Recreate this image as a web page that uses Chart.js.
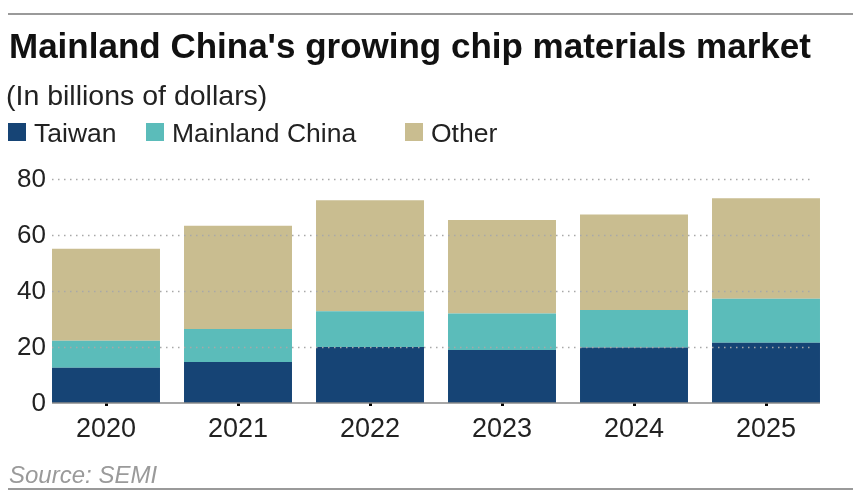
<!DOCTYPE html>
<html>
<head>
<meta charset="utf-8">
<script src="https://cdn.jsdelivr.net/npm/chart.js@4.4.1/dist/chart.umd.min.js"></script>
<style>
  body { margin: 0; background: #fff; }
  #wrap { position: relative; width: 864px; height: 502px; overflow: hidden; font-family: "Liberation Sans", Arial, sans-serif; }
  #chart { position: absolute; left: 0; top: 0; }
  .rule { position: absolute; left: 8px; width: 845px; height: 0; border-top: 2px solid #9a9a9a; }
  .txt { position: absolute; white-space: nowrap; line-height: 1; }
  #title { left: 9px; top: 28px; font-size: 35px; font-weight: bold; color: #111; }
  #subtitle { left: 6px; top: 81px; font-size: 28.5px; color: #222; }
  #legend { position: absolute; left: 0; top: 120px; height: 26px; }
  .item { position: absolute; top: 0; font-size: 26.5px; line-height: 1; color: #222; white-space: nowrap; }
  .sw { position: absolute; top: 3px; width: 18px; height: 18px; }
  #source { left: 9px; top: 463px; font-size: 24px; font-style: italic; color: #9a9a9a; }
</style>
</head>
<body>
<div id="wrap">
  <canvas id="chart" width="864" height="502"></canvas>
  <div class="rule" style="top:13px"></div>
  <div class="txt" id="title">Mainland China's growing chip materials market</div>
  <div class="txt" id="subtitle">(In billions of dollars)</div>
  <div id="legend"></div>
  <div class="txt" id="source">Source: SEMI</div>
  <div class="rule" style="top:488px"></div>
</div>
<script>
// datos (miles de millones de dólares)
const years = ["2020", "2021", "2022", "2023", "2024", "2025"];
const taiwan = [12.6, 14.6, 20.0, 18.9, 19.8, 21.5];
const mainlandChina = [9.6, 11.8, 12.8, 13.1, 13.4, 15.7];
const other = [32.9, 36.9, 39.6, 33.4, 34.1, 35.9];
const yTicks = [0, 20, 40, 60, 80];

const seriesNames = ["Taiwan", "Mainland China", "Other"];
const seriesColors = ["#164475", "#5bbcba", "#c9bd90"];

// leyenda en html
const legend = document.getElementById("legend");
const legendX = [8, 146, 405];
seriesNames.forEach((name, i) => {
  const item = document.createElement("div");
  item.className = "item";
  item.style.left = legendX[i] + "px";
  item.innerHTML = `<span class="sw" style="left:0;background:${seriesColors[i]}"></span><span style="margin-left:26px">${name}</span>`;
  legend.appendChild(item);
});

// cuadrícula punteada, eje x y etiquetas del eje y
const gridPlugin = {
  id: "dottedGrid",
  afterDatasetsDraw(chart) {
    const ctx = chart.ctx;
    const y = chart.scales.y;
    const bars = chart.getDatasetMeta(0).data;
    const first = bars[0];
    const last = bars[bars.length - 1];
    const left = first.x - first.width / 2;
    const right = last.x + last.width / 2;
    ctx.save();
    ctx.strokeStyle = "#a8a8a8";
    ctx.lineWidth = 1.5;
    ctx.setLineDash([1.5, 4.5]);
    yTicks.slice(1).forEach((v) => {
      const py = Math.round(y.getPixelForValue(v)) + 0.5;
      ctx.beginPath();
      ctx.moveTo(left, py);
      ctx.lineTo(right - 6, py);
      ctx.stroke();
    });
    ctx.setLineDash([]);
    ctx.strokeStyle = "#8a8a8a";
    ctx.lineWidth = 1.5;
    const py0 = y.getPixelForValue(0);
    ctx.beginPath();
    ctx.moveTo(left, py0);
    ctx.lineTo(right, py0);
    ctx.stroke();

    // etiquetas del eje y
    ctx.fillStyle = "#222";
    ctx.font = "26px 'Liberation Sans'";
    ctx.textAlign = "right";
    ctx.textBaseline = "middle";
    yTicks.forEach((v) => {
      ctx.fillText(String(v), left - 6, y.getPixelForValue(v) + 1);
    });
    ctx.restore();
  }
};

const config = {
  type: "bar",
  data: {
    labels: years,
    datasets: [
      { label: seriesNames[0], data: taiwan, backgroundColor: seriesColors[0] },
      { label: seriesNames[1], data: mainlandChina, backgroundColor: seriesColors[1] },
      { label: seriesNames[2], data: other, backgroundColor: seriesColors[2] }
    ]
  },
  options: {
    responsive: false,
    animation: false,
    layout: { padding: { left: 0, right: 32, top: 179, bottom: 54 } },
    datasets: { bar: { barPercentage: 0.818, categoryPercentage: 1 } },
    plugins: { legend: { display: false }, tooltip: { enabled: false } },
    scales: {
      x: {
        stacked: true,
        grid: { display: true, drawOnChartArea: false, drawTicks: true, tickLength: 3, tickWidth: 3, tickColor: "#000", offset: false },
        border: { display: false },
        ticks: { padding: 7, color: "#222", font: { family: "Liberation Sans", size: 27 } },
        afterFit(scale) { scale.height = 45; }
      },
      y: {
        stacked: true,
        min: 0,
        max: 80,
        grid: { display: false, drawTicks: false },
        border: { display: false },
        ticks: { stepSize: 20, display: false },
        afterFit(scale) { scale.width = 40; }
      }
    }
  },
  plugins: [gridPlugin]
};

new Chart(document.getElementById("chart"), config);
</script>
</body>
</html>
